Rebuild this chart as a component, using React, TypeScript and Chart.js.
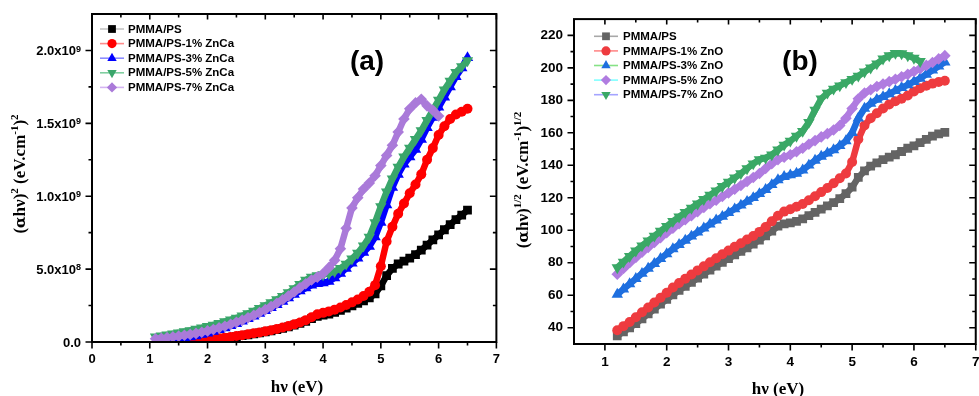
import React, { useEffect, useRef } from "react";
import { Chart, registerables } from "chart.js";

Chart.register(...registerables);

// ---------------- Panel (a) data: (αhν)^2 in units of 1e9 (eV.cm^-1)^2 ----------------
const ENERGY_A = [
  1.1, 1.2, 1.3, 1.4, 1.5, 1.6, 1.7, 1.8, 1.9, 2.0, 2.1, 2.2, 2.3, 2.4, 2.5, 2.6, 2.7, 2.8, 2.9,
  3.0, 3.1, 3.2, 3.3, 3.4, 3.5, 3.6, 3.7, 3.8, 3.9, 4.0, 4.1, 4.2, 4.3, 4.4, 4.5, 4.6, 4.7, 4.8,
  4.9, 5.0, 5.1, 5.2, 5.3, 5.4, 5.5, 5.6, 5.7, 5.8, 5.9, 6.0, 6.1, 6.2, 6.3, 6.4, 6.5,
];
const Y_UNIT_A = 1e9;
const A_PS = [
  null, null, null, 0.0, 0.002, 0.004, 0.006, 0.009, 0.012, 0.015, 0.019, 0.023, 0.027, 0.032,
  0.037, 0.043, 0.049, 0.055, 0.062, 0.069, 0.077, 0.085, 0.094, 0.104, 0.115, 0.127, 0.142,
  0.16, 0.176, 0.185, 0.192, 0.203, 0.217, 0.232, 0.248, 0.265, 0.283, 0.303, 0.33, 0.385,
  0.455, 0.505, 0.535, 0.555, 0.575, 0.6, 0.63, 0.665, 0.7, 0.735, 0.77, 0.805, 0.84, 0.87, 0.905,
];
const A_1 = [
  null, null, null, 0.0, 0.003, 0.005, 0.007, 0.01, 0.013, 0.017, 0.021, 0.025, 0.03, 0.035,
  0.041, 0.047, 0.054, 0.06, 0.066, 0.073, 0.081, 0.09, 0.099, 0.109, 0.121, 0.134, 0.15, 0.17,
  0.19, 0.2, 0.21, 0.222, 0.237, 0.254, 0.272, 0.292, 0.315, 0.345, 0.39, 0.52, 0.69, 0.79,
  0.88, 0.95, 1.02, 1.08, 1.15, 1.25, 1.33, 1.42, 1.48, 1.53, 1.56, 1.58, 1.6,
];
const A_3 = [
  null, 0.005, 0.01, 0.015, 0.021, 0.027, 0.034, 0.042, 0.051, 0.061, 0.072, 0.084, 0.097,
  0.111, 0.126, 0.142, 0.159, 0.177, 0.196, 0.215, 0.235, 0.256, 0.278, 0.302, 0.327, 0.35,
  0.37, 0.39, 0.4, 0.405, 0.415, 0.44, 0.47, 0.505, 0.54, 0.575, 0.615, 0.655, 0.72, 0.82,
  0.94, 1.06, 1.15, 1.22, 1.27, 1.32, 1.39, 1.47, 1.54, 1.61, 1.68, 1.75, 1.82, 1.88, 1.95,
];
const A_5 = [
  0.035, 0.042, 0.049, 0.056, 0.063, 0.071, 0.079, 0.088, 0.097, 0.107, 0.117, 0.128, 0.14,
  0.152, 0.165, 0.18, 0.196, 0.213, 0.231, 0.25, 0.27, 0.291, 0.314, 0.339, 0.366, 0.395,
  0.425, 0.445, 0.455, 0.462, 0.47, 0.485, 0.505, 0.535, 0.57, 0.61, 0.66, 0.72, 0.82, 0.93,
  1.03, 1.12, 1.2, 1.27, 1.33, 1.39, 1.45, 1.52, 1.59, 1.66, 1.73, 1.79, 1.85, 1.89, 1.93,
];
const A_7 = [
  0.022, 0.026, 0.03, 0.035, 0.04, 0.046, 0.052, 0.059, 0.067, 0.076, 0.086, 0.097, 0.108,
  0.121, 0.135, 0.15, 0.166, 0.183, 0.202, 0.222, 0.243, 0.266, 0.29, 0.316, 0.343, 0.372,
  0.4, 0.425, 0.445, 0.47, 0.51, 0.56, 0.64, 0.78, 0.92, 0.99, 1.05, 1.09, 1.14, 1.21, 1.28,
  1.35, 1.44, 1.53, 1.6, 1.64, 1.665, 1.62, 1.59, 1.55, null, null, null, null, null,
];
const LABELS_A = [
  "PMMA/PS",
  "PMMA/PS-1% ZnCa",
  "PMMA/PS-3% ZnCa",
  "PMMA/PS-5% ZnCa",
  "PMMA/PS-7% ZnCa",
];
const X_RANGE_A = [0, 7];
const Y_RANGE_A = [0, 2.25e9];
const X_TICKS_A = [0, 1, 2, 3, 4, 5, 6, 7];
const X_MINOR_A = [0.5, 1.5, 2.5, 3.5, 4.5, 5.5, 6.5];
const Y_TICKS_A = [0, 5e8, 1e9, 1.5e9, 2e9];
const Y_MINOR_A = [2.5e8, 7.5e8, 1.25e9, 1.75e9];

// ---------------- Panel (b) data: (αhν)^1/2 ----------------
const ENERGY_B = [
  1.2, 1.3, 1.4, 1.5, 1.6, 1.7, 1.8, 1.9, 2.0, 2.1, 2.2, 2.3, 2.4, 2.5, 2.6, 2.7, 2.8, 2.9, 3.0,
  3.1, 3.2, 3.3, 3.4, 3.5, 3.6, 3.7, 3.8, 3.9, 4.0, 4.1, 4.2, 4.3, 4.4, 4.5, 4.6, 4.7, 4.8, 4.9,
  5.0, 5.1, 5.2, 5.3, 5.4, 5.5, 5.6, 5.7, 5.8, 5.9, 6.0, 6.1, 6.2, 6.3, 6.4, 6.5,
];
const B_PS = [
  35, 37.5, 40, 42.5, 45.5, 48.5, 51.5, 54.5, 57.5, 60.3, 63, 65.5, 68, 70.5, 73, 75.5, 78, 80.3,
  82.5, 84.8, 87, 89.2, 91.5, 94, 96.5, 99.5, 102.5, 104, 104.5, 105.5, 107, 109, 111, 113, 115,
  117, 119.5, 122.5, 126.5, 132.5, 136.5, 139.5, 141.5, 143.5, 145, 146.5, 148.5, 150.5, 152,
  154, 156, 158, 159.3, 160.3,
];
const B_1 = [
  38.5, 41, 43.5, 46.5, 49.5, 52.5, 55.5, 58.5, 61.5, 64.8, 67.5, 70.2, 72.8, 75.3, 77.8, 80.3,
  82.8, 85.2, 87.5, 89.8, 92, 94.3, 96.5, 99, 102, 105.5, 109, 111.5, 113, 114.5, 116.2, 118.5,
  121, 123.5, 126, 129, 132, 135, 142, 156, 164.5, 169, 172, 175, 177.5, 179.5, 181, 183, 185.5,
  187.5, 189, 190.3, 191.3, 192,
];
const B_3 = [
  60.5, 63.8, 67, 70.2, 73.4, 76.5, 79.5, 82.5, 85.5, 88.5, 91.2, 93.8, 96.3, 98.8, 101.3, 103.8,
  106.2, 108.5, 110.8, 113.1, 115.4, 117.7, 120, 122.5, 125, 128, 131, 133, 134, 135, 137, 140,
  143, 145.5, 147.5, 149.5, 152, 155, 160, 169, 175, 178, 180.5, 182.2, 184, 186, 187.8, 189.5,
  191.5, 193.5, 196, 198.5, 201, 203.5,
];
const B_5 = [
  73, 76.5, 80, 83.3, 86.5, 89.5, 92.5, 95.5, 98.5, 101.3, 104, 106.5, 109, 111.5, 114, 116.3,
  118.5, 120.8, 123, 125.3, 127.6, 130, 132.5, 135, 138, 141, 143.5, 145, 146.5, 148.3, 150.5,
  153, 155.2, 157.5, 159.5, 161.7, 164.5, 169, 175, 181, 184.5, 186.5, 188.5, 190, 191.5, 193,
  194.5, 196, 197.7, 199.5, 201.5, 203.3, 205.5, 207.5,
];
const B_7 = [
  77, 80.5, 84, 87.3, 90.5, 93.5, 96.5, 99.5, 102.5, 105.5, 108.3, 111, 113.7, 116.3, 119, 121.7,
  124.3, 127, 129.7, 132.3, 135, 138, 141, 143.5, 144.5, 146.5, 149.5, 152.5, 155, 158, 161,
  166.5, 174, 181, 184.5, 187, 189, 191, 193, 195, 197.5, 200, 202.5, 205.5, 207.5, 209, 208.8,
  207.5, 206, 204, null, null, null, null,
];
const LABELS_B = [
  "PMMA/PS",
  "PMMA/PS-1% ZnO",
  "PMMA/PS-3% ZnO",
  "PMMA/PS-5% ZnO",
  "PMMA/PS-7% ZnO",
];
const X_RANGE_B = [0.5, 7];
const Y_RANGE_B = [30, 230];
const X_TICKS_B = [1, 2, 3, 4, 5, 6, 7];
const X_MINOR_B = [1.5, 2.5, 3.5, 4.5, 5.5, 6.5];
const Y_TICKS_B = [40, 60, 80, 100, 120, 140, 160, 180, 200, 220];
const Y_MINOR_B = [50, 70, 90, 110, 130, 150, 170, 190, 210];

// ---------------- styles ----------------
const MARK_A = ["#000000", "#ff0000", "#0000ff", "#3aa66b", "#aa7ad9"];
const LINE_A = ["#c4c4c4", "#ff8c8c", "#8c8cff", "#80cfa0", "#d4b4f2"];
const STYLE_A = ["rect", "circle", "triangle", "triangleDown", "rectRot"];
const MARK_B = ["#646464", "#ee3b3f", "#1e6fdf", "#b07ce0", "#3aa866"];
const LINE_B = ["#a8a8a8", "#ff8a8a", "#86e286", "#80ffff", "#a4a4ff"];
const STYLE_B = ["rect", "circle", "triangle", "rectRot", "triangleDown"];

const SANS = '"Liberation Sans", Arial, sans-serif';
const SERIF = '"Liberation Serif", "Times New Roman", serif';
const GREEK = '"DejaVu Serif", "Liberation Serif", serif';

type Seg = { t: string; sup?: boolean; greek?: boolean };

function drawRich(
  ctx: CanvasRenderingContext2D,
  segs: Seg[],
  x: number,
  y: number,
  o: { size: number; family: string; align: "left" | "center" | "right"; rotate?: boolean; supSize: number; raise: number }
) {
  ctx.save();
  ctx.translate(x, y);
  if (o.rotate) ctx.rotate(-Math.PI / 2);
  const fontFor = (s: Seg) =>
    s.greek
      ? `bold ${Math.round(o.size * 0.88)}px ${GREEK}`
      : `bold ${s.sup ? o.supSize : o.size}px ${o.family}`;
  let total = 0;
  const widths = segs.map((s) => {
    ctx.font = fontFor(s);
    const w = ctx.measureText(s.t).width;
    total += w;
    return w;
  });
  let cx = o.align === "center" ? -total / 2 : o.align === "right" ? -total : 0;
  ctx.textAlign = "left";
  ctx.textBaseline = "alphabetic";
  ctx.fillStyle = "#000";
  segs.forEach((s, i) => {
    ctx.font = fontFor(s);
    ctx.fillText(s.t, cx, s.sup ? -o.raise : 0);
    cx += widths[i];
  });
  ctx.restore();
}

function drawMarker(ctx: CanvasRenderingContext2D, style: string, x: number, y: number, r: number, color: string) {
  ctx.fillStyle = color;
  ctx.beginPath();
  if (style === "rect") {
    const h = r * 0.72;
    ctx.rect(x - h, y - h, 2 * h, 2 * h);
  } else if (style === "circle") {
    ctx.arc(x, y, r * 0.85, 0, Math.PI * 2);
  } else if (style === "triangle") {
    ctx.moveTo(x, y - r);
    ctx.lineTo(x + r * 0.866, y + r * 0.5);
    ctx.lineTo(x - r * 0.866, y + r * 0.5);
    ctx.closePath();
  } else if (style === "triangleDown") {
    ctx.moveTo(x, y + r);
    ctx.lineTo(x + r * 0.866, y - r * 0.5);
    ctx.lineTo(x - r * 0.866, y - r * 0.5);
    ctx.closePath();
  } else {
    const d = r * 0.95;
    ctx.moveTo(x, y - d);
    ctx.lineTo(x + d, y);
    ctx.lineTo(x, y + d);
    ctx.lineTo(x - d, y);
    ctx.closePath();
  }
  ctx.fill();
}

const decoPlugin = {
  id: "deco",
  afterDraw(chart: any, _args: any, o: any) {
    const ctx = chart.ctx as CanvasRenderingContext2D;
    const { left, right, top, bottom } = chart.chartArea;
    const xs = chart.scales.x;
    const ys = chart.scales.y;
    ctx.save();
    ctx.strokeStyle = "#000";
    ctx.lineWidth = 1.6;
    ctx.beginPath();
    const MJ = 6.5, MN = 3.5;
    (o.xMajor as number[]).forEach((v) => {
      const p = xs.getPixelForValue(v);
      ctx.moveTo(p, bottom); ctx.lineTo(p, bottom + MJ);
      ctx.moveTo(p, top); ctx.lineTo(p, top + MJ - 1);
    });
    (o.xMinor as number[]).forEach((v) => {
      const p = xs.getPixelForValue(v);
      ctx.moveTo(p, bottom); ctx.lineTo(p, bottom + MN);
      ctx.moveTo(p, top); ctx.lineTo(p, top + MN);
    });
    (o.yMajor as number[]).forEach((v) => {
      const p = ys.getPixelForValue(v);
      ctx.moveTo(left, p); ctx.lineTo(left - MJ, p);
      ctx.moveTo(right, p); ctx.lineTo(right - MJ, p);
    });
    (o.yMinor as number[]).forEach((v) => {
      const p = ys.getPixelForValue(v);
      ctx.moveTo(left, p); ctx.lineTo(left - MN, p);
      ctx.moveTo(right, p); ctx.lineTo(right - MN, p);
    });
    ctx.stroke();
    ctx.lineWidth = 2;
    ctx.strokeRect(left, top, right - left, bottom - top);

    if (o.sciY) {
      (o.yMajor as number[]).forEach((v) => {
        const py = ys.getPixelForValue(v);
        let segs: Seg[];
        if (v === 0) segs = [{ t: "0.0" }];
        else {
          const e = Math.floor(Math.log10(v) + 1e-9);
          const m = v / Math.pow(10, e);
          segs = [{ t: m.toFixed(1) + "x10" }, { t: String(e), sup: true }];
        }
        drawRich(ctx, segs, left - 11, py + 4.7, { size: 13, family: SANS, align: "right", supSize: 9, raise: 3.6 });
      });
    }

    const L = o.legend;
    L.labels.forEach((lab: string, i: number) => {
      const y = L.y0 + i * L.dy;
      ctx.strokeStyle = L.lineColors[i];
      ctx.lineWidth = 1.6;
      ctx.beginPath();
      ctx.moveTo(L.x0, y);
      ctx.lineTo(L.x1, y);
      ctx.stroke();
      drawMarker(ctx, L.styles[i], (L.x0 + L.x1) / 2, y, 5.4, L.markColors[i]);
      ctx.fillStyle = "#000";
      ctx.font = `bold ${L.size}px ${SANS}`;
      ctx.textAlign = "left";
      ctx.textBaseline = "middle";
      ctx.fillText(lab, L.tx, y + 0.5);
    });

    ctx.fillStyle = "#000";
    ctx.font = `bold 28px ${SANS}`;
    ctx.textAlign = "center";
    ctx.textBaseline = "middle";
    ctx.fillText(o.letter.text, o.letter.x, o.letter.y);

    drawRich(ctx, o.xTitle.segs, o.xTitle.x, o.xTitle.y, { size: 17, family: SERIF, align: "center", supSize: 11, raise: 7 });
    drawRich(ctx, o.yTitle.segs, o.yTitle.x, o.yTitle.y, { size: 17, family: SERIF, align: "center", rotate: true, supSize: 11, raise: 7 });
    ctx.restore();
  },
};

function pointOpts(style: string) {
  if (style === "rect") return { pointStyle: "rect", pointRotation: 0, pointRadius: 6.2 };
  if (style === "circle") return { pointStyle: "circle", pointRotation: 0, pointRadius: 5 };
  if (style === "triangle") return { pointStyle: "triangle", pointRotation: 0, pointRadius: 6.6 };
  if (style === "triangleDown") return { pointStyle: "triangle", pointRotation: 180, pointRadius: 6.6 };
  return { pointStyle: "rectRot", pointRotation: 0, pointRadius: 5.8 };
}

function buildDatasets(energy: number[], series: (number | null)[][], labels: string[], marks: string[], styles: string[], unit: number) {
  return series.map((vals, i) => ({
    label: labels[i],
    data: energy
      .map((e, k) => ({ x: e, y: vals[k] === null ? null : (vals[k] as number) * unit }))
      .filter((p) => p.y !== null),
    borderColor: marks[i],
    borderWidth: 6.5,
    backgroundColor: marks[i],
    pointBackgroundColor: marks[i],
    pointBorderWidth: 0,
    pointHoverRadius: 0,
    tension: 0,
    order: series.length - i,
    ...pointOpts(styles[i]),
  }));
}

function makeConfig(p: any): any {
  return {
    type: "line",
    data: { datasets: p.datasets },
    options: {
      animation: false,
      responsive: false,
      devicePixelRatio: 1,
      events: [],
      layout: { padding: { top: 14, right: p.padRight, left: 0, bottom: 0 } },
      plugins: {
        legend: { display: false },
        tooltip: { enabled: false },
        deco: p.deco,
      },
      scales: {
        x: {
          type: "linear",
          min: p.xr[0],
          max: p.xr[1],
          afterFit: (s: any) => { s.height = p.xH; },
          afterBuildTicks: (s: any) => { s.ticks = p.deco.xMajor.map((v: number) => ({ value: v })); },
          grid: { display: false, drawTicks: false },
          border: { display: false },
          ticks: {
            padding: p.xPad,
            color: "#000",
            maxRotation: 0,
            autoSkip: false,
            font: { family: SANS, size: p.tickSize, weight: "bold" },
          },
        },
        y: {
          type: "linear",
          min: p.yr[0],
          max: p.yr[1],
          afterFit: (s: any) => { s.width = p.yW; },
          afterBuildTicks: (s: any) => { s.ticks = p.deco.yMajor.map((v: number) => ({ value: v })); },
          grid: { display: false, drawTicks: false },
          border: { display: false },
          ticks: {
            display: !p.deco.sciY,
            padding: 11,
            color: "#000",
            autoSkip: false,
            font: { family: SANS, size: p.tickSize, weight: "bold" },
          },
        },
      },
    },
    plugins: [decoPlugin],
  };
}

export default function App() {
  const refA = useRef<HTMLCanvasElement>(null);
  const refB = useRef<HTMLCanvasElement>(null);

  useEffect(() => {
    const cfgA = makeConfig({
      datasets: buildDatasets(ENERGY_A, [A_PS, A_1, A_3, A_5, A_7], LABELS_A, MARK_A, STYLE_A, Y_UNIT_A),
      xr: X_RANGE_A,
      yr: Y_RANGE_A,
      padRight: 8,
      xH: 54,
      yW: 92,
      xPad: 10,
      tickSize: 13,
      deco: {
        sciY: true,
        xMajor: X_TICKS_A,
        xMinor: X_MINOR_A,
        yMajor: Y_TICKS_A,
        yMinor: Y_MINOR_A,
        legend: { labels: LABELS_A, lineColors: LINE_A, markColors: MARK_A, styles: STYLE_A, x0: 100, x1: 124, tx: 128, y0: 29, dy: 14.6, size: 11.5 },
        letter: { text: "(a)", x: 367, y: 62 },
        xTitle: { segs: [{ t: "hν (eV)" }], x: 297, y: 392 },
        yTitle: {
          segs: [{ t: "(" }, { t: "α", greek: true }, { t: "hν)" }, { t: "2", sup: true }, { t: " (eV.cm" }, { t: "-1", sup: true }, { t: ")" }, { t: "2", sup: true }],
          x: 25,
          y: 174,
        },
      },
    });
    const cfgB = makeConfig({
      datasets: buildDatasets(ENERGY_B, [B_PS, B_1, B_3, B_5, B_7], LABELS_B, MARK_B, STYLE_B, 1),
      xr: X_RANGE_B,
      yr: Y_RANGE_B,
      padRight: 11,
      xH: 52,
      yW: 64,
      xPad: 10.5,
      tickSize: 13.5,
      deco: {
        sciY: false,
        xMajor: X_TICKS_B,
        xMinor: X_MINOR_B,
        yMajor: Y_TICKS_B,
        yMinor: Y_MINOR_B,
        legend: { labels: LABELS_B, lineColors: LINE_B, markColors: MARK_B, styles: STYLE_B, x0: 84, x1: 108, tx: 113, y0: 36.3, dy: 14.6, size: 11.5 },
        letter: { text: "(b)", x: 290, y: 62 },
        xTitle: { segs: [{ t: "hν (eV)" }], x: 268, y: 394 },
        yTitle: {
          segs: [{ t: "(" }, { t: "α", greek: true }, { t: "hν)" }, { t: "1/2", sup: true }, { t: " (eV.cm" }, { t: "-1", sup: true }, { t: ")" }, { t: "1/2", sup: true }],
          x: 18,
          y: 180,
        },
      },
    });
    const a = new Chart(refA.current as HTMLCanvasElement, cfgA);
    const b = new Chart(refB.current as HTMLCanvasElement, cfgB);
    return () => {
      a.destroy();
      b.destroy();
    };
  }, []);

  return (
    <div style={{ position: "absolute", left: 0, top: 0, width: 979, height: 396, background: "#fff", overflow: "hidden" }}>
      <canvas ref={refA} width={510} height={396} style={{ position: "absolute", left: 0, top: 0, width: 510, height: 396 }} />
      <canvas ref={refB} width={480} height={396} style={{ position: "absolute", left: 510, top: 0, width: 480, height: 396 }} />
    </div>
  );
}
